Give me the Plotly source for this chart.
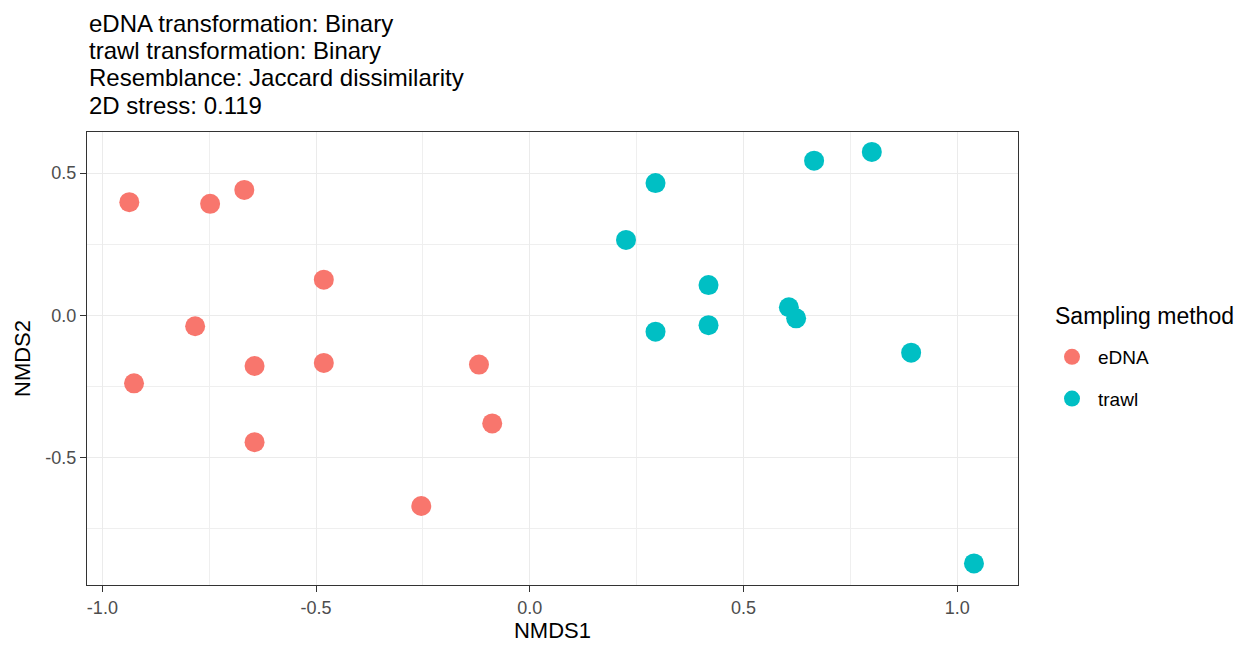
import plotly.graph_objects as go

# NMDS ordination scores per sample
edna_nmds1 = [-0.937, -0.748, -0.668, -0.482, -0.783, -0.926, -0.644, -0.482, -0.119, -0.088, -0.644, -0.254]
edna_nmds2 = [0.398, 0.392, 0.441, 0.125, -0.039, -0.240, -0.179, -0.168, -0.174, -0.381, -0.447, -0.672]

trawl_nmds1 = [0.294, 0.225, 0.665, 0.800, 0.418, 0.606, 0.623, 0.294, 0.418, 0.892, 1.039]
trawl_nmds2 = [0.465, 0.265, 0.544, 0.575, 0.106, 0.028, -0.011, -0.058, -0.035, -0.132, -0.874]

x_ticks = [-1.0, -0.5, 0.0, 0.5, 1.0]
y_ticks = [-0.5, 0.0, 0.5]

header_lines = [
    "eDNA transformation: Binary",
    "trawl transformation: Binary",
    "Resemblance: Jaccard dissimilarity",
    "2D stress: 0.119",
]
legend_title = "Sampling method"

FONT = "Liberation Sans, Arial, sans-serif"
RED = "#F8766D"
CYAN = "#00BFC4"

fig = go.Figure()
fig.add_trace(go.Scatter(
    x=edna_nmds1, y=edna_nmds2, mode="markers", name="eDNA",
    legendgroup="a",
    marker=dict(color=RED, size=20, line=dict(width=0)),
))
fig.add_trace(go.Scatter(
    x=trawl_nmds1, y=trawl_nmds2, mode="markers", name="trawl",
    legendgroup="b",
    marker=dict(color=CYAN, size=20, line=dict(width=0)),
))

axis_common = dict(
    showline=True, linecolor="#333333", linewidth=1, mirror=True,
    showgrid=True, gridcolor="#EBEBEB", gridwidth=1.2,
    zeroline=False,
    ticks="outside", ticklen=6, tickcolor="#333333", tickwidth=1,
    tickfont=dict(family=FONT, size=18, color="#4D4D4D"),
    minor=dict(showgrid=True, gridcolor="#EFEFEF", gridwidth=1, dtick=0.25, ticks=""),
)

fig.update_layout(
    width=1254, height=651,
    margin=dict(l=87, r=236, t=132, b=64),
    paper_bgcolor="white", plot_bgcolor="white",
    font=dict(family=FONT, color="black"),
    xaxis=dict(
        range=[-1.036, 1.142], tickvals=x_ticks, ticktext=[f"{v:.1f}" for v in x_ticks],
        title=dict(text="NMDS1", font=dict(family=FONT, size=22), standoff=6),
        **axis_common,
    ),
    yaxis=dict(
        range=[-0.950, 0.645], tickvals=y_ticks, ticktext=[f"{v:.1f}" for v in y_ticks],
        title=dict(text="NMDS2", font=dict(family=FONT, size=22), standoff=8),
        **axis_common,
    ),
    legend=dict(
        font=dict(family=FONT, size=19, color="black"),
        xref="container", yref="container",
        x=1046 / 1254, xanchor="left", y=1 - 338 / 651, yanchor="top",
        tracegroupgap=14, traceorder="grouped", itemwidth=42,
        bgcolor="rgba(0,0,0,0)",
    ),
    showlegend=True,
)

# Legend heading placed above the legend entries
fig.add_annotation(
    text=legend_title,
    xref="paper", yref="paper", x=1.0, y=1.0, xshift=35, yshift=-184,
    xanchor="left", yanchor="middle", showarrow=False,
    font=dict(family=FONT, size=23, color="black"),
)

# Header lines above the panel, one annotation per line
line_offsets = [109, 82, 55, 27]
for text, dy in zip(header_lines, line_offsets):
    fig.add_annotation(
        text=text,
        xref="paper", yref="paper", x=0, y=1.0, yshift=dy,
        xanchor="left", yanchor="middle", align="left", showarrow=False,
        font=dict(family=FONT, size=24, color="black"),
    )

fig.write_html("out.html")
